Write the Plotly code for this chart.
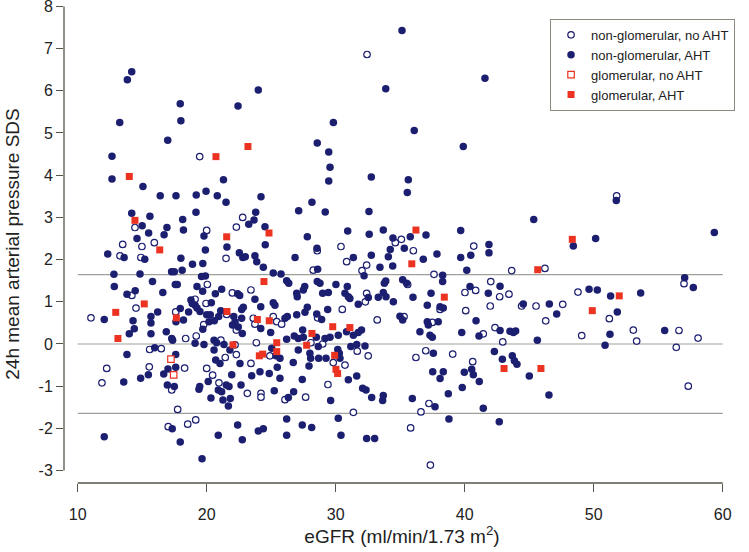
import plotly.graph_objects as go

# eGFR (x) and 24h MAP SDS (y), per group
ng_noaht_x = [19.46, 22.79, 14.44, 20.0, 22.3, 13.49, 14.98, 15.94, 13.28, 14.9, 21.5,
              20.05, 14.2, 21.99, 19.1, 19.95, 14.52, 11.03, 17.6, 19.77, 21.55, 22.3, 18.37, 19.19, 21.1, 22.2,
              22.3, 15.58, 16.48, 21.44, 12.25, 15.55, 18.29, 11.88, 20.0, 20.46, 20.95, 17.29, 17.75, 17.02,
              18.53, 19.15,
              32.43, 34.62, 35.09, 28.57, 30.41,
              30.85, 32.4, 32.04, 28.26, 23.43, 32.4, 32.3, 30.51, 28.6, 35.3, 33.22, 23.61, 23.74, 25.16, 25.43,
              25.81, 23.85, 28.08, 28.99, 31.67, 32.52, 29.81, 30.72, 24.9, 23.43, 29.4, 23.15, 24.21, 24.21,
              26.07, 27.67, 31.37,
              40.7, 36.02,
              37.62, 43.64, 46.22, 35.58, 38.09, 40.02, 40.85, 42.02, 42.71, 43.43, 40.08, 41.98, 44.41, 45.53,
              47.6, 46.28, 37.49, 41.44, 42.35, 42.95, 36.22, 36.98, 39.07, 40.62, 37.23, 36.61, 35.81, 37.34,
              51.78, 57.0, 48.78, 51.21, 49.07, 53.07, 53.33, 56.61, 56.4, 58.09, 57.33]
ng_noaht_y = [4.44, 3.0, 2.76, 2.69, 2.77, 2.36, 2.31, 2.40, 2.09, 2.05, 2.03,
              1.41, 1.15, 1.21, 1.06, 0.96, 0.85, 0.62, 0.76, 0.46, 0.70, 0.33, 0.13, 0.19, 0.09, -0.02,
              -0.25, -0.13, -0.11, -0.32, -0.58, -0.54, -0.57, -0.92, -0.58, -0.74, -0.92, -1.09, -1.55, -1.96,
              -1.90, -1.80,
              6.86, 2.40, 2.48, 2.21, 2.31,
              1.95, 1.87, 1.74, 1.75, 1.28, 1.20, 1.00, 0.82, 0.62, 0.65, 0.57, 0.61, 0.47, 0.65, 0.53,
              0.47, 0.03, 0.03, 0.0, -0.17, -0.28, -0.44, -0.50, -0.28, -0.46, -0.96, -1.17, -1.17, -1.26,
              -1.32, -1.26, -1.62,
              2.32, 2.21,
              1.65, 1.74, 1.79, 1.41, 0.82, 1.22, 1.27, 1.48, 1.12, 1.18, 0.79, 0.90, 0.90, 0.90,
              0.94, 0.55, 0.51, 0.24, 0.39, 0.05, -0.32, -0.16, -0.24, -0.42, -1.41, -1.61, -1.99, -2.87,
              3.51, 1.43, 1.23, 0.60, 0.20, 0.33, 0.07, 0.32, -0.08, 0.14, -1.00]

ng_aht_x = [14.19, 13.85, 17.95, 22.43, 18.0, 13.26, 16.98, 12.66, 12.66, 21.3, 15.06, 16.4, 17.62, 19.19,
            19.95, 20.82, 21.5, 14.19, 15.6, 15.0, 18.14, 19.17, 16.92, 18.2, 15.5, 16.7, 19.79, 14.6, 19.9,
            21.57, 22.53, 12.33, 13.6, 15.2, 18.0, 22.8,
            12.81, 14.83, 17.28, 17.49, 18.1, 18.9, 19.7, 19.6, 19.9, 15.8, 17.57, 17.72, 12.84, 19.25, 21.16,
            19.69, 16.6, 13.82, 14.46, 22.4, 22.56, 20.67, 20.36, 18.78, 18.88, 19.1, 12.06, 16.2, 15.68, 15.68,
            14.29, 17.62, 17.95, 18.2, 18.6, 19.25, 19.48, 20.0, 20.28, 20.18, 19.7, 21.09, 20.93, 20.59, 22.1,
            22.2, 22.45, 22.0, 22.71, 22.76, 14.39, 14.0, 15.68, 16.87, 17.29, 17.36, 19.1, 19.79, 20.57, 20.77,
            21.34, 20.57, 21.8, 15.97, 17.6, 13.82, 20.7, 21.03, 22.58, 17.0, 17.6, 16.67, 15.48, 14.88, 13.57,
            21.94, 20.12, 16.95, 17.49, 19.46, 19.4, 20.9, 21.16, 21.52, 21.73, 22.66, 20.33, 21.26, 21.83,
            21.68, 17.33, 12.06, 17.95, 20.9, 22.4, 22.76, 19.64,
            35.14, 33.88, 24.0, 29.82, 28.57, 29.46, 29.56, 29.46, 32.76, 35.63, 35.55, 24.21, 28.16, 27.13,
            29.19, 32.58, 23.8, 23.67, 23.26, 24.52, 30.93, 32.6, 33.69, 34.44, 27.8, 24.54, 28.55, 34.23,
            35.32, 22.99, 23.74, 26.85, 31.37, 32.76,
            34.08, 23.88, 24.39, 32.2, 33.43, 34.42, 28.6, 25.16, 25.76, 26.2, 26.36, 28.57, 28.78, 30.02, 30.9,
            27.6, 27.49, 26.98, 27.02, 33.88, 33.77, 35.19, 35.5, 28.99, 29.43, 30.72, 30.98, 31.1, 32.53, 33.3,
            33.69, 33.9, 34.47, 23.74, 25.16, 25.29, 24.19, 22.84, 27.8, 27.62, 29.38, 31.75, 26.98, 28.53,
            28.91, 34.98, 35.19, 26.07, 26.25, 22.71, 24.19, 24.96, 27.44, 26.79, 27.1, 26.2, 27.49, 28.5,
            29.17, 29.56, 30.2, 30.84, 31.37, 31.75, 32.0, 28.65, 25.04, 25.37, 25.68, 27.1, 28.0, 28.06, 28.68,
            29.25, 30.16, 30.28, 30.33, 31.17, 31.63, 32.27, 26.71, 27.93, 25.47, 24.13, 24.85, 23.49, 25.68,
            27.41, 30.98, 31.63, 32.09, 32.35, 32.79, 33.69, 33.64, 25.24, 26.33, 26.74, 29.61, 26.2, 30.2,
            24.0, 24.39, 27.41, 28.14, 26.2, 30.41, 32.4, 33.02,
            41.57, 36.09, 39.89, 45.35, 35.78, 37.0, 39.69, 41.88, 41.88, 37.85, 39.69, 40.47, 36.79, 48.42,
            38.29, 38.29, 40.16, 35.99, 37.39, 37.1, 38.09, 38.34, 40.41, 41.83, 42.74, 44.54, 46.56, 47.13,
            37.1, 37.18, 37.95, 40.88, 36.53, 37.31, 37.49, 39.77, 41.11, 42.74, 43.51, 43.77, 43.95, 45.63,
            37.57, 42.3, 42.92, 43.69, 43.85, 44.05, 40.54, 40.67, 39.97, 37.52, 38.34, 38.09, 41.13, 45.01,
            35.94, 38.73, 39.81, 46.53, 37.7, 41.44, 38.78, 42.68,
            51.75, 50.15, 59.35, 57.05, 57.72, 49.64, 50.28, 51.31, 53.64, 51.83, 51.26, 50.88, 55.5]
ng_aht_y = [6.45, 6.26, 5.69, 5.64, 5.29, 5.25, 4.83, 4.45, 3.91, 3.89, 3.73, 3.51, 3.51, 3.53,
            3.62, 3.51, 3.36, 3.10, 3.03, 2.80, 2.95, 3.12, 2.76, 2.70, 2.63, 2.59, 2.56, 2.50, 2.23,
            2.30, 2.16, 2.13, 2.05, 2.01, 2.03, 2.05,
            1.65, 1.66, 1.71, 1.71, 1.75, 1.89, 1.91, 1.60, 1.61, 1.48, 1.41, 1.41, 1.36, 1.36, 1.30,
            1.25, 1.22, 1.18, 1.26, 1.19, 1.15, 1.19, 0.98, 1.04, 0.96, 0.92, 0.58, 0.76, 0.65, 0.50,
            0.55, 0.53, 0.84, 0.57, 0.76, 0.85, 0.77, 0.69, 0.69, 0.53, 0.35, 0.79, 0.65, 0.55, 0.65,
            0.52, 0.40, 0.45, 0.82, 0.25, 0.36, 0.24, 0.24, 0.29, 0.13, 0.09, 0.02, -0.01, 0.09, 0.03,
            -0.01, -0.14, -0.14, -0.09, -0.25, -0.25, -0.38, -0.46, -0.46, -0.59, -0.55, -0.71, -0.73, -0.81, -0.90,
            -0.73, -0.89, -0.97, -1.01, -1.01, -1.07, -1.09, -1.13, -0.97, -1.01, -0.97, -1.28, -1.33, -1.29,
            -1.47, -2.01, -2.20, -2.32, -2.16, -1.92, -2.27, -2.72,
            7.43, 6.05, 6.02, 5.25, 4.76, 4.55, 4.19, 3.86, 3.96, 3.89, 3.59, 3.49, 3.36, 3.16,
            3.13, 3.14, 3.12, 2.94, 2.84, 2.78, 2.68, 2.60, 2.70, 2.51, 2.54, 2.35, 2.27, 2.24,
            2.27, 2.07, 2.09, 2.05, 2.05, 2.10,
            2.07, 1.95, 1.82, 1.62, 1.82, 1.85, 1.77, 1.68, 1.66, 1.50, 1.44, 1.48, 1.44, 1.41, 1.36,
            1.36, 1.28, 1.20, 1.12, 1.49, 1.44, 1.52, 1.44, 1.20, 1.22, 1.20, 1.12, 1.08, 1.10, 1.11,
            1.22, 1.12, 1.00, 1.06, 0.98, 0.92, 0.88, 0.87, 0.87, 0.75, 0.82, 0.94, 0.69, 0.71,
            0.58, 0.66, 0.57, 0.61, 0.65, 0.61, 0.37, 0.27, 0.33, 0.19, 0.13, 0.11, 0.16, 0.16,
            0.13, 0.16, 0.21, 0.29, 0.21, 0.27, 0.33, -0.06, -0.10, -0.28, -0.34, -0.14, -0.22, -0.34, -0.34,
            -0.34, -0.13, -0.22, -0.34, -0.06, -0.01, -0.05, -0.44, -0.52, -0.55, -0.66, -0.70, -0.75, -0.81,
            -0.84, -0.85, -0.76, -1.05, -1.09, -1.27, -1.22, -1.34, -1.11, -1.27, -1.13, -1.34, -1.78, -1.76,
            -2.06, -2.01, -1.92, -1.98, -2.16, -2.16, -2.24, -2.24,
            6.30, 5.06, 4.68, 2.95, 2.54, 2.58, 2.69, 2.36, 2.16, 2.13, 2.05, 2.10, 2.01, 2.32,
            1.63, 1.48, 1.75, 1.11, 1.20, 0.92, 0.88, 0.85, 1.36, 1.20, 1.37, 0.95, 0.95, 0.71,
            0.53, 0.45, 0.53, 0.55, 0.29, 0.21, 0.16, 0.27, 0.19, 0.32, 0.30, 0.27, 0.31, 0.09,
            -0.22, -0.18, -0.36, -0.28, -0.40, -0.48, -0.60, -0.73, -0.67, -0.66, -0.66, -0.82, -0.89, -0.76,
            -1.29, -1.18, -1.03, -1.21, -1.49, -1.52, -1.78, -1.84,
            3.40, 2.50, 2.64, 1.57, 1.34, 1.30, 1.28, 1.14, 1.21, 0.76, 0.23, -0.03, 0.32]

gl_noaht_x = [17.23, 17.44]
gl_noaht_y = [-0.36, -0.73]

gl_aht_x = [20.72, 14.0, 14.44, 21.55, 16.36, 15.16, 12.95, 17.65, 21.57, 13.12, 22.04, 23.2, 24.83, 35.9,
            24.44, 23.93, 24.85, 29.77, 31.1, 28.16, 25.43, 25.43, 27.75, 29.92, 30.02, 30.15, 24.08, 24.34,
            36.22, 48.34, 45.66, 38.42, 43.05, 45.91, 49.89, 51.98]
gl_aht_y = [4.44, 3.97, 2.93, 2.54, 2.23, 0.95, 0.75, 0.62, 0.77, 0.13, -0.02, 4.68, 2.63, 1.90,
            1.48, 0.58, 0.55, 0.41, 0.39, 0.25, 0.03, -0.18, -0.03, -0.27, -0.60, -0.70, -0.28, -0.24,
            2.70, 2.48, 1.76, 1.11, -0.58, -0.58, 0.79, 1.14]

ref_lines = [1.645, 0, -1.645]
x_ticks = [10, 20, 30, 40, 50, 60]
y_ticks = [-3, -2, -1, 0, 1, 2, 3, 4, 5, 6, 7, 8]

navy = "#1c1f70"
red = "#ec3220"
axis_col = "#55554a"

fig = go.Figure()
fig.add_trace(go.Scatter(x=ng_noaht_x, y=ng_noaht_y, mode="markers", name="non-glomerular, no AHT",
                         marker=dict(symbol="circle", size=6.5, color="white", line=dict(color=navy, width=1.2))))
fig.add_trace(go.Scatter(x=ng_aht_x, y=ng_aht_y, mode="markers", name="non-glomerular, AHT",
                         marker=dict(symbol="circle", size=7.5, color=navy, line=dict(width=0))))
fig.add_trace(go.Scatter(x=gl_noaht_x, y=gl_noaht_y, mode="markers", name="glomerular, no AHT",
                         marker=dict(symbol="square", size=6.5, color="white", line=dict(color=red, width=1.2))))
fig.add_trace(go.Scatter(x=gl_aht_x, y=gl_aht_y, mode="markers", name="glomerular, AHT",
                         marker=dict(symbol="square", size=7, color=red, line=dict(width=0))))

# reference lines at 0 and +-1.645 SDS
for v in ref_lines:
    fig.add_shape(type="line", xref="x", yref="y", x0=10, x1=60, y0=v, y1=v,
                  line=dict(color="#a0a09a", width=1.2), layer="below")

# R-style detached axis lines
fig.add_shape(type="line", xref="paper", yref="y", x0=0, x1=0, y0=-3, y1=8,
              line=dict(color=axis_col, width=1.3))
fig.add_shape(type="line", xref="x", yref="paper", x0=10, x1=60, y0=0, y1=0,
              line=dict(color=axis_col, width=1.3))

fig.update_layout(
    width=749, height=552,
    margin=dict(l=64, r=9, t=5, b=69),
    paper_bgcolor="white", plot_bgcolor="white",
    font=dict(family="Liberation Sans, Arial, sans-serif", size=16, color="#222222"),
    xaxis=dict(range=[8.94, 61.34], tickvals=x_ticks, ticktext=[str(v) for v in x_ticks],
               ticks="outside", ticklen=8, tickwidth=1.3, tickcolor=axis_col, automargin=False,
               showline=False, showgrid=False, zeroline=False, ticklabelstandoff=9,
               title=dict(text="eGFR (ml/min/1.73 m<sup>2</sup>)", standoff=4)),
    yaxis=dict(range=[-3.294, 8.033], tickvals=y_ticks, ticktext=[str(v) for v in y_ticks],
               ticks="outside", ticklen=7, tickwidth=1.3, tickcolor=axis_col, automargin=False,
               ticklabeloverflow="allow", showline=False, showgrid=False, zeroline=False,
               title=dict(text="24h mean arterial pressure SDS", standoff=13)),
    legend=dict(x=0.719, y=0.971, xanchor="left", yanchor="top", bgcolor="white",
                bordercolor="#8a8a80", borderwidth=1, font=dict(size=13), tracegroupgap=0),
)

# drop the default page margin so the figure sits at the window's top-left corner
fig.write_html("out.html", config={"displayModeBar": False},
               post_script="document.body.style.margin='0';document.body.style.padding='0';")
